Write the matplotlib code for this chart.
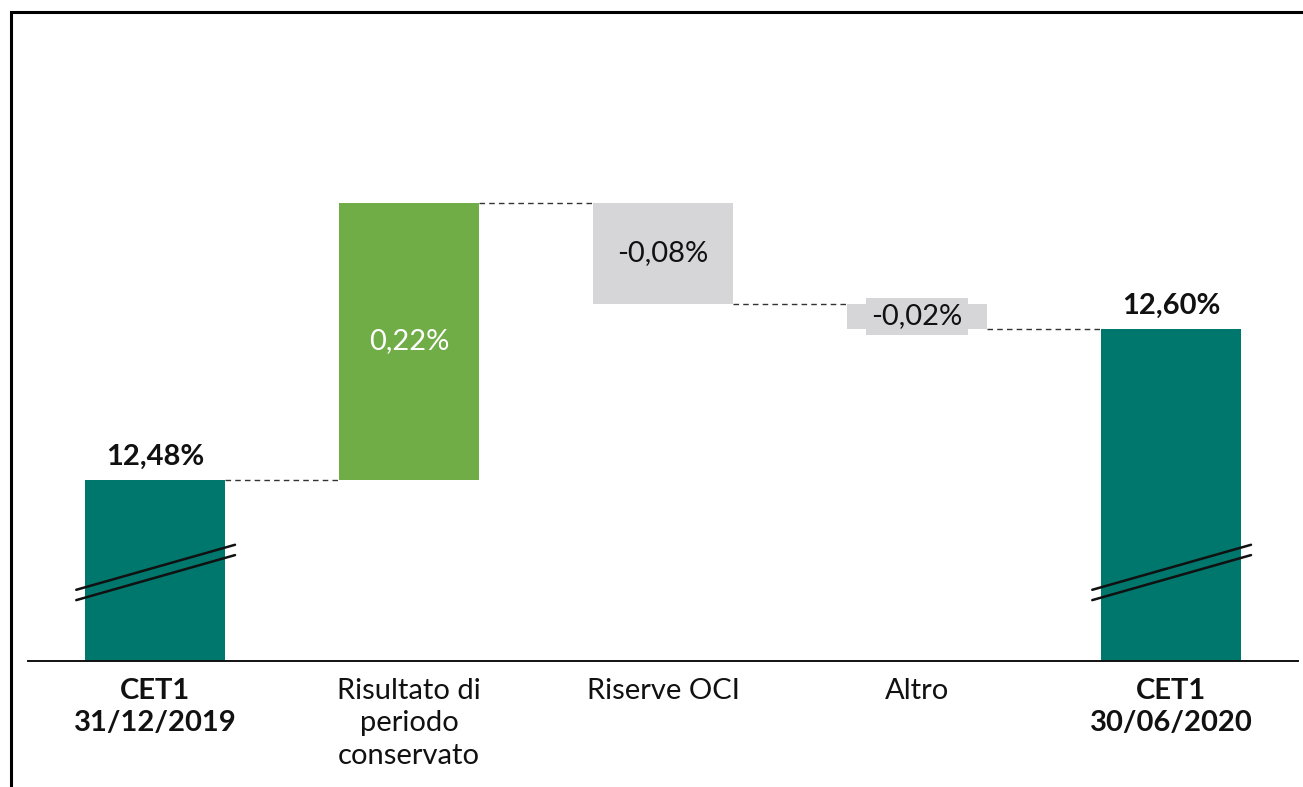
import matplotlib
matplotlib.use("Agg")
import matplotlib.pyplot as plt
from matplotlib.patches import Rectangle

# ===== DATA =====
categories = ["CET1\n31/12/2019", "Risultato di\nperiodo\nconservato", "Riserve OCI", "Altro", "CET1\n30/06/2020"]
start_value = 12.48
deltas = [0.22, -0.08, -0.02]
end_value = 12.60
value_labels = ["12,48%", "0,22%", "-0,08%", "-0,02%", "12,60%"]
is_total = [True, False, False, False, True]

# ===== STYLE =====
TEAL = "#00776d"
GREEN = "#70ad47"
GREY = "#d6d6d8"
TEXT = "#111111"
FONT = "Lato"
FS = 21
Y_BOTTOM = 12.336
Y_TOP = 12.782
BAR_W = 0.555

plt.rcParams["font.family"] = [FONT, "DejaVu Sans"]

fig = plt.figure(figsize=(13.03, 7.87), dpi=100)
W, H = 1303, 787
ax = fig.add_axes([28 / W, (H - 661) / H, 1270 / W, (661 - 100) / H])

# waterfall geometry
bottoms, heights, colors = [], [], []
level = start_value
bottoms.append(Y_BOTTOM); heights.append(start_value - Y_BOTTOM); colors.append(TEAL)
for d in deltas:
    new = level + d
    bottoms.append(min(level, new)); heights.append(abs(d))
    colors.append(GREEN if d > 0 else GREY)
    level = new
bottoms.append(Y_BOTTOM); heights.append(end_value - Y_BOTTOM); colors.append(TEAL)

x = list(range(len(categories)))
ax.bar(x, heights, bottom=bottoms, width=BAR_W, color=colors, edgecolor="none", zorder=2)

# connectors
levels = [start_value]
for d in deltas:
    levels.append(levels[-1] + d)
for i, lv in enumerate(levels):
    ax.plot([x[i] + BAR_W / 2, x[i + 1] - BAR_W / 2], [lv, lv], color="#333333",
            lw=1.0, dashes=(4, 3), zorder=1)

# value labels
tops = [b + h for b, h in zip(bottoms, heights)]
for i, lab in enumerate(value_labels):
    if is_total[i]:
        ax.annotate(lab, (x[i], tops[i]), xytext=(0, 7), textcoords="offset points",
                    ha="center", va="bottom", fontsize=FS, fontweight="bold", color=TEXT)
    elif colors[i] == GREEN:
        ax.text(x[i], bottoms[i] + heights[i] / 2, lab, ha="center", va="center",
                fontsize=FS, color="white", zorder=3)
    else:
        bbox = None
        if heights[i] < 0.05:
            bbox = dict(boxstyle="square,pad=0.2", facecolor=GREY, edgecolor="none")
        ax.text(x[i], bottoms[i] + heights[i] / 2, lab, ha="center", va="center",
                fontsize=FS, color=TEXT, bbox=bbox, zorder=3)

# axis break marks on total bars
for i in x:
    if is_total[i]:
        for off in (0.0, -0.0082):
            ax.plot([x[i] - 0.31, x[i] + 0.315], [12.3926 + off, 12.4284 + off],
                    color="#111111", lw=1.8, solid_capstyle="round", zorder=3)

ax.set_xlim(-0.5, len(categories) - 0.5)
ax.set_ylim(Y_BOTTOM, Y_TOP)
ax.set_yticks([])
ax.set_xticks(x)
ax.set_xticklabels(categories, fontsize=FS, color=TEXT, linespacing=1.32)
for i, t in enumerate(ax.get_xticklabels()):
    if is_total[i]:
        t.set_fontweight("bold")
ax.tick_params(axis="x", length=0, pad=12)
for s in ("top", "right", "left"):
    ax.spines[s].set_visible(False)
ax.spines["bottom"].set_linewidth(1.4)
ax.spines["bottom"].set_color("#111111")

# outer frame (partially cropped in the original)
fig.patches.append(Rectangle((11 / W, -0.05), 1.2, (H - 12) / H + 0.05,
                             transform=fig.transFigure, fill=False,
                             edgecolor="black", lw=2.2))

fig.savefig("out.png", dpi=100, facecolor="white")
